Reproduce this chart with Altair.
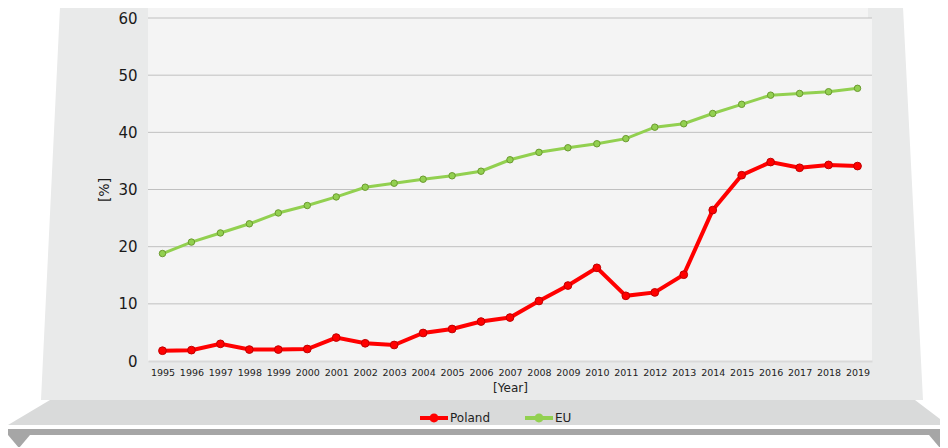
import altair as alt
import pandas as pd

years = ["1995", "1996", "1997", "1998", "1999", "2000", "2001", "2002", "2003",
         "2004", "2005", "2006", "2007", "2008", "2009", "2010", "2011", "2012",
         "2013", "2014", "2015", "2016", "2017", "2018", "2019"]
poland = [1.8, 1.9, 3.0, 2.0, 2.0, 2.1, 4.1, 3.1, 2.8, 4.9, 5.6, 6.9, 7.6,
          10.5, 13.2, 16.3, 11.4, 12.0, 15.1, 26.4, 32.5, 34.8, 33.8, 34.3, 34.1]
eu = [18.8, 20.8, 22.4, 24.0, 25.9, 27.2, 28.7, 30.4, 31.1, 31.8, 32.4, 33.2,
      35.2, 36.5, 37.3, 38.0, 38.9, 40.9, 41.5, 43.3, 44.9, 46.5, 46.8, 47.1, 47.7]
series_names = ["Poland", "EU"]
series_colors = ["#ff0000", "#92d050"]
y_ticks = [0, 10, 20, 30, 40, 50, 60]
grid_values = [10, 20, 30, 40, 50, 60]

rows = []
for name, vals in zip(series_names, [poland, eu]):
    for yr, v in zip(years, vals):
        rows.append({"year": yr, "value": v, "series": name})
df = pd.DataFrame(rows)
grid_df = pd.DataFrame({"value": grid_values})

W, H = 724, 343

# ---------- decorative "stage" shapes (custom symbol paths, size=4 -> 1px units)
deco_data = alt.Data(values=[{"k": 1}])


def deco(path, color):
    return alt.Chart(deco_data).mark_point(
        shape=path, filled=True, opacity=1, strokeWidth=0, size=4, fill=color
    ).encode(x=alt.value(0), y=alt.value(0))


panel = deco("M-88,-11L755,-11L775,382L-107,382Z M0,0L0,343L724,343L724,0Z", "#e9eaea")
strip = deco("M0,-11L720,-11L720,0L0,0Z", "#f4f4f4")
stage = deco("M-98,382L767,382L800,407L-140,407Z", "#d9dada")
bar = deco("M-140,411L800,411L800,417L-140,417Z", "#a6a6a6")
tri_l = deco("M-140,417L-118,417L-129,430Z", "#a6a6a6")
tri_r = deco("M781,417L803,417L792,430Z", "#a6a6a6")

# ---------- gridlines as rules through the y scale
grid = alt.Chart(grid_df).mark_rule(color="#c0c0c0", strokeWidth=1).encode(
    y=alt.Y("value:Q")
)

# ---------- data layers
color_scale = alt.Scale(domain=series_names, range=series_colors)
is_pl = "datum.series === 'Poland'"

legend_path = ("M-1,-0.14L1,-0.14L1,0.14L-1,0.14Z "
               "M0.32,0A0.32,0.32 0 1,1 -0.32,0A0.32,0.32 0 1,1 0.32,0Z")
legend = alt.Legend(
    title=None, orient="none", legendX=272, legendY=386, zindex=1,
    direction="horizontal", symbolType=legend_path, symbolSize=784,
    symbolStrokeWidth=0, symbolOpacity=1, labelFontSize=12, labelColor="#222222",
    columnPadding=34, labelOffset=2,
)

base = alt.Chart(df).encode(
    x=alt.X(
        "year:O", sort=years,
        axis=alt.Axis(
            title="[Year]", labelAngle=0, ticks=False, grid=False, zindex=1,
            domainColor="#d9d9d9", domainWidth=2,
            labelFontSize=9.5, labelColor="#222222", labelPadding=6,
            titleFontSize=12, titleFontWeight="normal", titleColor="#222222",
            titlePadding=6,
        ),
    ),
    y=alt.Y(
        "value:Q", scale=alt.Scale(domain=[0, 60], nice=False),
        axis=alt.Axis(
            title="[%]", values=y_ticks, ticks=False, domain=False, grid=False,
            zindex=1,
            labelFontSize=15, labelColor="#1a1a1a", labelPadding=11,
            titleFontSize=14, titleFontWeight="normal", titleColor="#1a1a1a",
            titlePadding=6,
        ),
    ),
)

lines = base.mark_line().encode(
    color=alt.Color("series:N", scale=color_scale, legend=legend),
    strokeWidth=alt.condition(is_pl, alt.value(4), alt.value(3)),
)

points = base.mark_point(filled=True, opacity=1).encode(
    color=alt.Color("series:N", scale=color_scale, legend=legend),
    stroke=alt.condition(is_pl, alt.value("#c00000"), alt.value("#6b9a2f")),
    size=alt.condition(is_pl, alt.value(60), alt.value(42)),
    strokeWidth=alt.value(1),
)

chart = alt.layer(panel, strip, stage, bar, tri_l, tri_r, grid, lines, points).properties(
    width=W, height=H,
    autosize=alt.AutoSizeParams(type="none"),
    padding={"left": 140, "top": 10, "right": 68, "bottom": 86},
    background="white",
).configure(font="DejaVu Sans").configure_view(fill="#f4f4f4", stroke=None)

chart.save("out.html", embed_options={"renderer": "svg", "actions": False})
